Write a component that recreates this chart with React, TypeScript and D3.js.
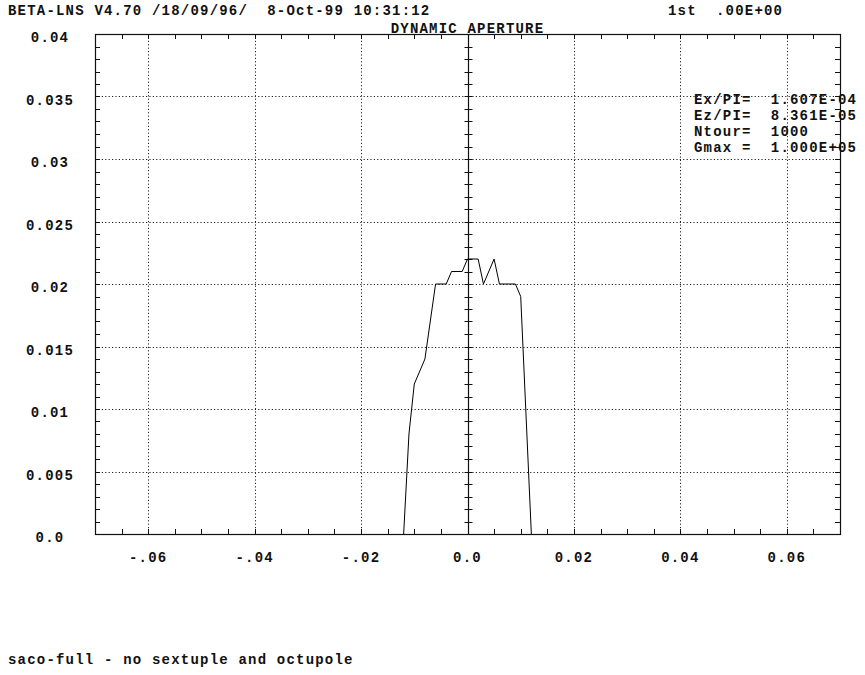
import React from "react";
import * as d3 from "d3";

const apertureX = [-0.012, -0.011, -0.010, -0.008, -0.006, -0.004, -0.003, -0.001, 0.0, 0.002, 0.003, 0.005, 0.006, 0.009, 0.010, 0.012];
const apertureY = [0, 0.008, 0.012, 0.014, 0.020, 0.020, 0.021, 0.021, 0.022, 0.022, 0.020, 0.022, 0.020, 0.020, 0.019, 0];

const xTickValues = [-0.06, -0.04, -0.02, 0, 0.02, 0.04, 0.06];
const xTickLabels = ["-.06", "-.04", "-.02", "0.0", "0.02", "0.04", "0.06"];
const yTickValues = [0, 0.005, 0.01, 0.015, 0.02, 0.025, 0.03, 0.035, 0.04];
const yTickLabels = ["0.0", "0.005", "0.01", "0.015", "0.02", "0.025", "0.03", "0.035", "0.04"];

const headerLeft = "BETA-LNS V4.70 /18/09/96/  8-Oct-99 10:31:12";
const headerRight = "1st  .00E+00";
const title = "DYNAMIC APERTURE";
const infoLines = ["Ex/PI=  1.607E-04", "Ez/PI=  8.361E-05", "Ntour=  1000", "Gmax =  1.000E+05"];
const footer = "saco-full - no sextuple and octupole";

const W = 865;
const H = 675;
const left = 95, right = 840, top = 34, bottom = 534;

export default function App() {
  const x = d3.scaleLinear().domain([-0.07, 0.07]).range([left, right]);
  const y = d3.scaleLinear().domain([0, 0.04]).range([bottom, top]);

  const xMinor = d3.range(-14, 15).map((i) => i * 0.005);
  const yMinor = d3.range(0, 41).map((i) => i * 0.001);

  const line = d3
    .line<number>()
    .x((_, i) => x(apertureX[i]))
    .y((d) => y(d));

  const font = {
    fontFamily: "'Liberation Mono', 'DejaVu Sans Mono', monospace",
    fontWeight: 700 as const,
    fontSize: 14,
    letterSpacing: "1.2px",
    fill: "#111",
  };

  return (
    <svg
      width={W}
      height={H}
      style={{ position: "absolute", left: 0, top: 0, background: "#fff" }}
    >
      <rect x={0} y={0} width={W} height={H} fill="#fff" />
      {/* grid */}
      <g stroke="#222" strokeWidth={1} strokeDasharray="1.2,2.2">
        {xTickValues
          .filter((v) => v !== 0)
          .map((v) => (
            <line key={"gx" + v} x1={Math.round(x(v)) + 0.5} x2={Math.round(x(v)) + 0.5} y1={top} y2={bottom} />
          ))}
        {yTickValues
          .filter((v) => v !== 0 && v !== 0.04)
          .map((v) => (
            <line key={"gy" + v} x1={left} x2={right} y1={Math.round(y(v)) + 0.5} y2={Math.round(y(v)) + 0.5} />
          ))}
      </g>
      {/* frame */}
      <rect x={left + 0.5} y={top + 0.5} width={right - left} height={bottom - top} fill="none" stroke="#111" strokeWidth={1.2} />
      {/* center axis */}
      <line x1={Math.round(x(0)) + 0.5} x2={Math.round(x(0)) + 0.5} y1={top} y2={bottom} stroke="#111" strokeWidth={1.2} />
      {/* ticks */}
      <g stroke="#111" strokeWidth={1}>
        {xMinor.map((v, i) => {
          const px = Math.round(x(v)) + 0.5;
          return (
            <g key={"tx" + i}>
              <line x1={px} x2={px} y1={top} y2={top + 5} />
              <line x1={px} x2={px} y1={bottom} y2={bottom - 5} />
            </g>
          );
        })}
        {yMinor.map((v, i) => {
          const py = Math.round(y(v)) + 0.5;
          const cx = Math.round(x(0)) + 0.5;
          return (
            <g key={"ty" + i}>
              <line x1={left} x2={left + 5} y1={py} y2={py} />
              <line x1={right} x2={right - 5} y1={py} y2={py} />
              <line x1={cx - 4} x2={cx + 4} y1={py} y2={py} />
            </g>
          );
        })}
      </g>
      {/* curve */}
      <path d={line(apertureY) || ""} fill="none" stroke="#000" strokeWidth={1} />
      {/* labels */}
      {yTickValues.map((v, i) => (
        <text key={"yl" + i} x={50} y={y(v) + 8} textAnchor="middle" style={font}>
          {yTickLabels[i]}
        </text>
      ))}
      {xTickValues.map((v, i) => (
        <text key={"xl" + i} x={x(v)} y={bottom + 28} textAnchor="middle" style={font}>
          {xTickLabels[i]}
        </text>
      ))}
      <text x={8} y={15} style={font} xmlSpace="preserve">{headerLeft}</text>
      <text x={668} y={15} style={font} xmlSpace="preserve">{headerRight}</text>
      <text x={x(0)} y={33} textAnchor="middle" style={font}>{title}</text>
      {infoLines.map((t, i) => (
        <text key={"il" + i} x={694} y={104 + i * 16} style={font} xmlSpace="preserve">
          {t}
        </text>
      ))}
      <text x={8} y={664} style={font} xmlSpace="preserve">{footer}</text>
    </svg>
  );
}
